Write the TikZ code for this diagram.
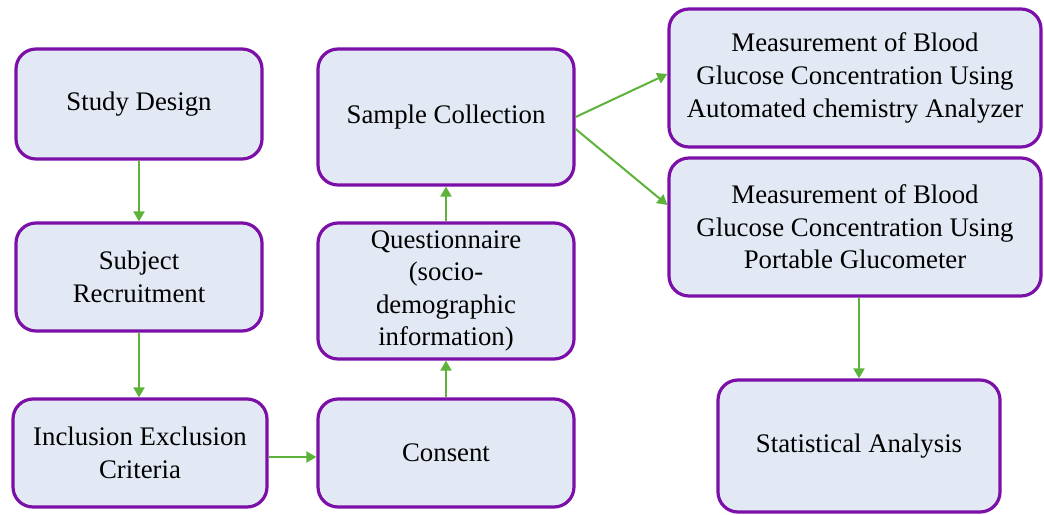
\documentclass[tikz,border=0pt]{standalone}
\usepackage{fontspec}
\setmainfont{Liberation Serif}
\usetikzlibrary{positioning}
\usetikzlibrary{arrows.meta}

\definecolor{boxline}{HTML}{7B0FA8}
\definecolor{boxfill}{HTML}{E2E9F4}
\definecolor{flowgreen}{HTML}{5DB33A}

\tikzset{
  box/.style={draw=boxline, fill=boxfill, line width=1.6pt, rounded corners=10pt,
    align=center, inner sep=2pt, font=\fontsize{13.4}{16.3}\selectfont},
  flow/.style={draw=flowgreen, line width=1pt, -{Triangle[length=5pt,width=5.5pt]}}
}

\begin{document}
\begin{tikzpicture}[x=0.5pt,y=-0.5pt]
 \useasboundingbox (0,0) rectangle (1044,514);
 % left column
 \node[box, minimum width=123pt, minimum height=55pt] (study) at (139,104) {Study Design};
 \node[box, minimum width=123pt, minimum height=54pt] (recruit) at (139,277) {Subject\\Recruitment};
 \node[box, minimum width=127pt, minimum height=54pt] (criteria) at (140,453) {Inclusion Exclusion\\Criteria};
 % middle column
 \node[box, minimum width=128pt, minimum height=54pt] (consent) at (446,453) {Consent};
 \node[box, minimum width=128pt, minimum height=68pt] (quest) at (446,291) {Questionnaire\\(socio-\\demographic\\information)};
 \node[box, minimum width=128pt, minimum height=68pt] (sample) at (446,117) {Sample Collection};
 % right column
 \node[box, minimum width=186pt, minimum height=69pt] (lab) at (855,78) {Measurement of Blood\\Glucose Concentration Using\\Automated chemistry Analyzer};
 \node[box, minimum width=186pt, minimum height=69pt] (meter) at (855,227) {Measurement of Blood\\Glucose Concentration Using\\Portable Glucometer};
 \node[box, minimum width=141pt, minimum height=66pt] (stats) at (859,446) {Statistical Analysis};

 \draw[flow] (study) -- (recruit);
 \draw[flow] (recruit.south) -- (recruit.south |- criteria.north);
 \draw[flow] ([yshift=-2pt]criteria.east) -- ([yshift=-2pt]consent.west);
 \draw[flow] (consent) -- (quest);
 \draw[flow] (quest) -- (sample);
 \draw[flow] (sample.east) -- ([yshift=2pt]lab.west);
 \draw[flow] ([yshift=-6pt]sample.east) -- ([yshift=11pt]meter.west);
 \draw[flow] (stats.north |- meter.south) -- (stats.north);
\end{tikzpicture}
\end{document}
